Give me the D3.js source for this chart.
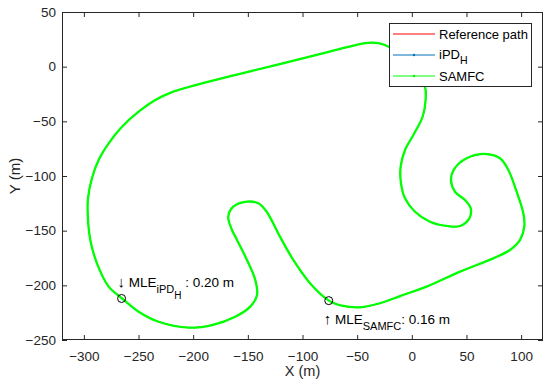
<!DOCTYPE html>
<html>
<head>
<meta charset="utf-8">
<script src="https://cdn.jsdelivr.net/npm/d3@7"></script>
<style>
  html, body { margin: 0; padding: 0; background: #fff; }
  svg { display: block; font-family: "Liberation Sans", Arial, sans-serif; }
</style>
</head>
<body>
<svg id="chart" width="550" height="391"></svg>
<script>
// ---- Data ----
const pathX = [-204, -185.8, -155.3, -123.6, -77.9, -53.5, -44, -35.2, -24.6, -14, -3.5, 5, 12, 12.6, 9.9, 1.4, -6.2, -10.2, -9.9, -6.2, 2.9, 16.6, 31.9, 44.1, 52.6, 53.9, 48.6, 39.5, 35.8, 38.6, 50.2, 68.5, 80.7, 88.3, 95.9, 102, 102.9, 99, 89.8, 74.5, 44.1, 13.5, -10.8, -29.1, -47.4, -62.7, -75.8, -93.1, -108.4, -120.6, -132.8, -140.4, -151.1, -163.3, -167.9, -164.5, -159.9, -150.8, -143.2, -141.6, -147.8, -161.5, -182.8, -204.1, -231.6, -249.9, -265.1, -277.3, -288, -294.1, -296.5, -296.2, -292.6, -286.5, -277.3, -265.1, -249.9, -234.6, -219.4];
const pathY = [-18.6, -13.7, -6.1, 1.7, 13.1, 19.2, 21.3, 21.9, 19.8, 13.5, 3.5, -7, -18.3, -30.5, -45.8, -62.5, -76.2, -91.5, -106.7, -120.4, -132.7, -141.8, -145.7, -145.7, -138.7, -129.6, -122, -114.4, -103.7, -93.9, -83.8, -79.9, -83.8, -94.5, -114.4, -134.1, -146.4, -158.5, -167.7, -175.3, -187.5, -201.2, -209.8, -216.4, -220.1, -218.9, -214, -198.1, -176.8, -155.5, -132.7, -125, -123.5, -128.1, -137.2, -149.4, -158.5, -176.8, -195.1, -208.8, -219.5, -228.7, -236.3, -238.7, -233.3, -224.1, -211.9, -201.2, -179.9, -158.5, -134, -120.4, -102.1, -85.4, -70.1, -54.9, -41.2, -30.5, -23.3];
const seriesNames = ["Reference path", "iPD", "SAMFC"];
const seriesColors = ["#ff0000", "#0072bd", "#00ff00"];
const mleNames = ["iPD", "SAMFC"];
const mleX = [-265.5, -76];
const mleY = [-212, -214];
const mleValues = ["0.20", "0.16"];
const xTicks = [-300, -250, -200, -150, -100, -50, 0, 50, 100];
const yTicks = [-250, -200, -150, -100, -50, 0, 50];

// ---- Layout ----
const svg = d3.select("#chart");
const L = 62, R = 543, T = 12, B = 340;
const x = d3.scaleLinear().domain([-320, 120]).range([L, R]);
const y = d3.scaleLinear().domain([-250, 50]).range([B, T]);
const axisColor = "#262626";

// Axes (ticks inward on all four sides)
const gx = svg.append("g").attr("transform", `translate(0,${B})`)
  .call(d3.axisBottom(x).tickValues(xTicks).tickSize(-5).tickSizeOuter(0).tickPadding(11));
const gxt = svg.append("g").attr("transform", `translate(0,${T})`)
  .call(d3.axisTop(x).tickValues(xTicks).tickSize(-5).tickSizeOuter(0).tickFormat(""));
const gy = svg.append("g").attr("transform", `translate(${L},0)`)
  .call(d3.axisLeft(y).tickValues(yTicks).tickSize(-5).tickSizeOuter(0).tickPadding(6));
const gyr = svg.append("g").attr("transform", `translate(${R},0)`)
  .call(d3.axisRight(y).tickValues(yTicks).tickSize(-5).tickSizeOuter(0).tickFormat(""));
[gx, gxt, gy, gyr].forEach(g => {
  g.selectAll(".domain").remove();
  g.selectAll("line").attr("stroke", axisColor);
  g.selectAll("text").attr("fill", axisColor).attr("font-size", 13.5)
    .attr("font-family", "'Liberation Sans', Arial, sans-serif");
});

// Paths (all series overlap; green drawn on top and hides the others)
const pts = pathX.map((v, i) => [v, pathY[i]]);
const line = d3.line().x(d => x(d[0])).y(d => y(d[1])).curve(d3.curveCatmullRomClosed.alpha(0.5));
const widths = [1, 1, 2.3];
seriesNames.forEach((n, i) => {
  svg.append("path").datum(pts).attr("d", line)
    .attr("fill", "none").attr("stroke", seriesColors[i]).attr("stroke-width", widths[i]);
});

// Box
svg.append("rect").attr("x", L + 0.5).attr("y", T + 0.5).attr("width", R - L - 1).attr("height", B - T - 1)
  .attr("fill", "none").attr("stroke", axisColor).attr("stroke-width", 1);

// MLE markers
mleX.forEach((v, i) => {
  svg.append("circle").attr("cx", x(v)).attr("cy", y(mleY[i])).attr("r", 4)
    .attr("fill", "none").attr("stroke", "#000").attr("stroke-width", 1);
});

// Annotations
function mleLabel(tx, ty, arrow, sub, subSub, val) {
  const t = svg.append("text").attr("x", tx).attr("y", ty).attr("fill", "#000").attr("font-size", 13.5);
  t.append("tspan").attr("font-size", 15).text(arrow);
  t.append("tspan").text(" MLE");
  let drop = 0;
  t.append("tspan").attr("font-size", 11).attr("dy", 6).text(sub); drop += 6;
  if (subSub) { t.append("tspan").attr("font-size", 10).attr("dy", 6).text(subSub); drop += 6; }
  t.append("tspan").attr("dy", -drop).text((subSub ? " " : "") + ": " + val + " m");
}
mleLabel(x(mleX[0]) - 4, y(mleY[0]) - 11, "\u2193", "iPD", "H", mleValues[0]);
mleLabel(x(mleX[1]) - 5, y(mleY[1]) + 23, "\u2191", "SAMFC", null, mleValues[1]);

// Axis labels
svg.append("text").attr("x", (L + R) / 2).attr("y", 376).attr("text-anchor", "middle")
  .attr("font-size", 14.5).attr("fill", axisColor).text("X (m)");
svg.append("text").attr("transform", `translate(20,${(T + B) / 2}) rotate(-90)`).attr("text-anchor", "middle")
  .attr("font-size", 15).attr("fill", axisColor).text("Y (m)");

// Legend
const lg = svg.append("g");
lg.append("rect").attr("x", 389.5).attr("y", 23.5).attr("width", 142).attr("height", 63)
  .attr("fill", "#fff").attr("stroke", axisColor).attr("stroke-width", 1);
const rowY = [34, 55, 76];
seriesNames.forEach((n, i) => {
  lg.append("line").attr("x1", 393).attr("x2", 435).attr("y1", rowY[i]).attr("y2", rowY[i])
    .attr("stroke", seriesColors[i]).attr("stroke-width", 1);
  if (i > 0) {
    lg.append("circle").attr("cx", 414).attr("cy", rowY[i]).attr("r", 1.2).attr("fill", seriesColors[i]);
  }
  const t = lg.append("text").attr("x", 439).attr("font-size", 13).attr("fill", "#000");
  if (i === 1) {
    t.attr("y", rowY[i] + 3.5);
    t.append("tspan").text(n);
    t.append("tspan").attr("dy", 5.5).attr("font-size", 10.5).text("H");
  } else {
    t.attr("y", rowY[i] + 5).text(n);
  }
});
</script>
</body>
</html>
